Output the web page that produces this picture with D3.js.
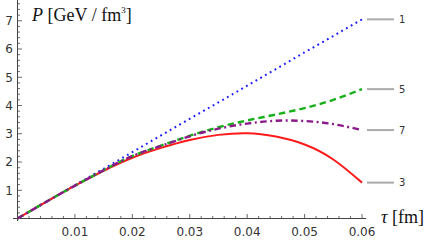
<!DOCTYPE html>
<html>
<head>
<meta charset="utf-8">
<script src="https://cdn.jsdelivr.net/npm/d3@7"></script>
<style>
  html, body { margin: 0; padding: 0; background: #fff; }
  svg { display: block; }
</style>
</head>
<body>
<svg id="chart" width="436" height="240"></svg>
<script>
// ---- data ----
const tau = [0, 0.005, 0.01, 0.015, 0.02, 0.025, 0.03, 0.035, 0.04, 0.045, 0.05, 0.055, 0.06];
const series1 = [0, 0.59, 1.18, 1.76, 2.35, 2.94, 3.53, 4.11, 4.70, 5.29, 5.88, 6.46, 7.05];
const series5 = [0, 0.59, 1.16, 1.71, 2.21, 2.58, 2.93, 3.23, 3.47, 3.68, 3.91, 4.20, 4.58];
const series7 = [0, 0.59, 1.16, 1.71, 2.21, 2.57, 2.91, 3.18, 3.36, 3.46, 3.45, 3.34, 3.13];
const series3 = [0, 0.59, 1.16, 1.69, 2.15, 2.50, 2.78, 2.96, 3.02, 2.90, 2.62, 2.09, 1.27];
const seriesLabels = ["1", "5", "7", "3"];
const xTicks = [0.01, 0.02, 0.03, 0.04, 0.05, 0.06];
const yTicks = [1, 2, 3, 4, 5, 6, 7];

const svg = d3.select("#chart");
const x = d3.scaleLinear().domain([0, 0.06]).range([17.5, 362]);
const y = d3.scaleLinear().domain([0, 7]).range([218.5, 20.75]);

const axisColor = "#444";
const labelColor = "#333";

// ---- axes ----
const gx = svg.append("g").attr("transform", `translate(0,${y(0)})`);
gx.append("line").attr("x1", 13).attr("x2", 366).attr("y1", 0).attr("y2", 0)
  .attr("stroke", axisColor).attr("stroke-width", 1);
const xMinor = d3.range(1, 31).map(i => i * 0.002);
gx.selectAll("line.minor").data(xMinor).join("line")
  .attr("x1", d => x(d)).attr("x2", d => x(d))
  .attr("y1", 0).attr("y2", d => (Math.round(d * 1000) % 10 === 0) ? -4.5 : -2.5)
  .attr("stroke", axisColor).attr("stroke-width", 0.8);
gx.selectAll("text").data(xTicks).join("text")
  .attr("x", d => x(d)).attr("y", 17)
  .attr("text-anchor", "middle")
  .attr("font-family", "DejaVu Sans, sans-serif").attr("font-size", 12)
  .attr("fill", labelColor)
  .text(d => d3.format(".2f")(d));

const gy = svg.append("g").attr("transform", `translate(${x(0)},0)`);
gy.append("line").attr("x1", 0).attr("x2", 0).attr("y1", 0).attr("y2", 221)
  .attr("stroke", axisColor).attr("stroke-width", 1);
const yMinor = d3.range(1, 39).map(i => i * 0.2);
gy.selectAll("line.minor").data(yMinor).join("line")
  .attr("x1", 0).attr("y1", d => y(d)).attr("y2", d => y(d))
  .attr("x2", d => (Math.abs(d - Math.round(d)) < 1e-6) ? 4.5 : 2.5)
  .attr("stroke", axisColor).attr("stroke-width", 0.8);
gy.selectAll("text").data(yTicks).join("text")
  .attr("x", -4.5).attr("y", d => y(d)).attr("dy", "0.36em")
  .attr("text-anchor", "end")
  .attr("font-family", "DejaVu Sans, sans-serif").attr("font-size", 12)
  .attr("fill", labelColor)
  .text(d => d);

// ---- axis titles ----
const tP = svg.append("text").attr("x", 32).attr("y", 21)
  .attr("font-family", "Liberation Serif, serif").attr("font-size", 18).attr("fill", "#111");
tP.append("tspan").attr("font-style", "italic").text("P");
tP.append("tspan").text(" [GeV / fm");
tP.append("tspan").attr("font-size", 9).attr("dy", -8).text("3");
tP.append("tspan").attr("dy", 8).text("]");

const tT = svg.append("text").attr("x", 381).attr("y", 223)
  .attr("font-family", "Liberation Serif, serif").attr("font-size", 18).attr("fill", "#111");
tT.append("tspan").attr("font-style", "italic").text("τ");
tT.append("tspan").text(" [fm]");

// ---- curves ----
const line = d3.line().x((d, i) => x(tau[i])).y(d => y(d)).curve(d3.curveNatural);
const specs = [
  { v: series1, color: "#1a1aff", w: 2, dash: "1.8,3.7" },
  { v: series3, color: "#ff1a1a", w: 2, dash: null },
  { v: series5, color: "#18b018", w: 2.4, dash: "6.5,4" },
  { v: series7, color: "#8a1a8a", w: 2.4, dash: "6.5,3.5,2,3.5" }
];
specs.forEach(s => {
  svg.append("path").datum(s.v).attr("d", line)
    .attr("fill", "none").attr("stroke", s.color).attr("stroke-width", s.w)
    .attr("stroke-dasharray", s.dash);
});

// ---- end labels ----
const ends = [series1, series5, series7, series3].map((v, i) => ({ v: v[v.length - 1], label: seriesLabels[i] }));
const gl = svg.append("g");
gl.selectAll("line").data(ends).join("line")
  .attr("x1", 367).attr("x2", 394)
  .attr("y1", d => y(d.v)).attr("y2", d => y(d.v))
  .attr("stroke", "#aaa").attr("stroke-width", 2);
gl.selectAll("text").data(ends).join("text")
  .attr("x", 399).attr("y", d => y(d.v)).attr("dy", "0.36em")
  .attr("font-family", "DejaVu Sans, sans-serif").attr("font-size", 10)
  .attr("fill", "#333")
  .text(d => d.label);
</script>
</body>
</html>
